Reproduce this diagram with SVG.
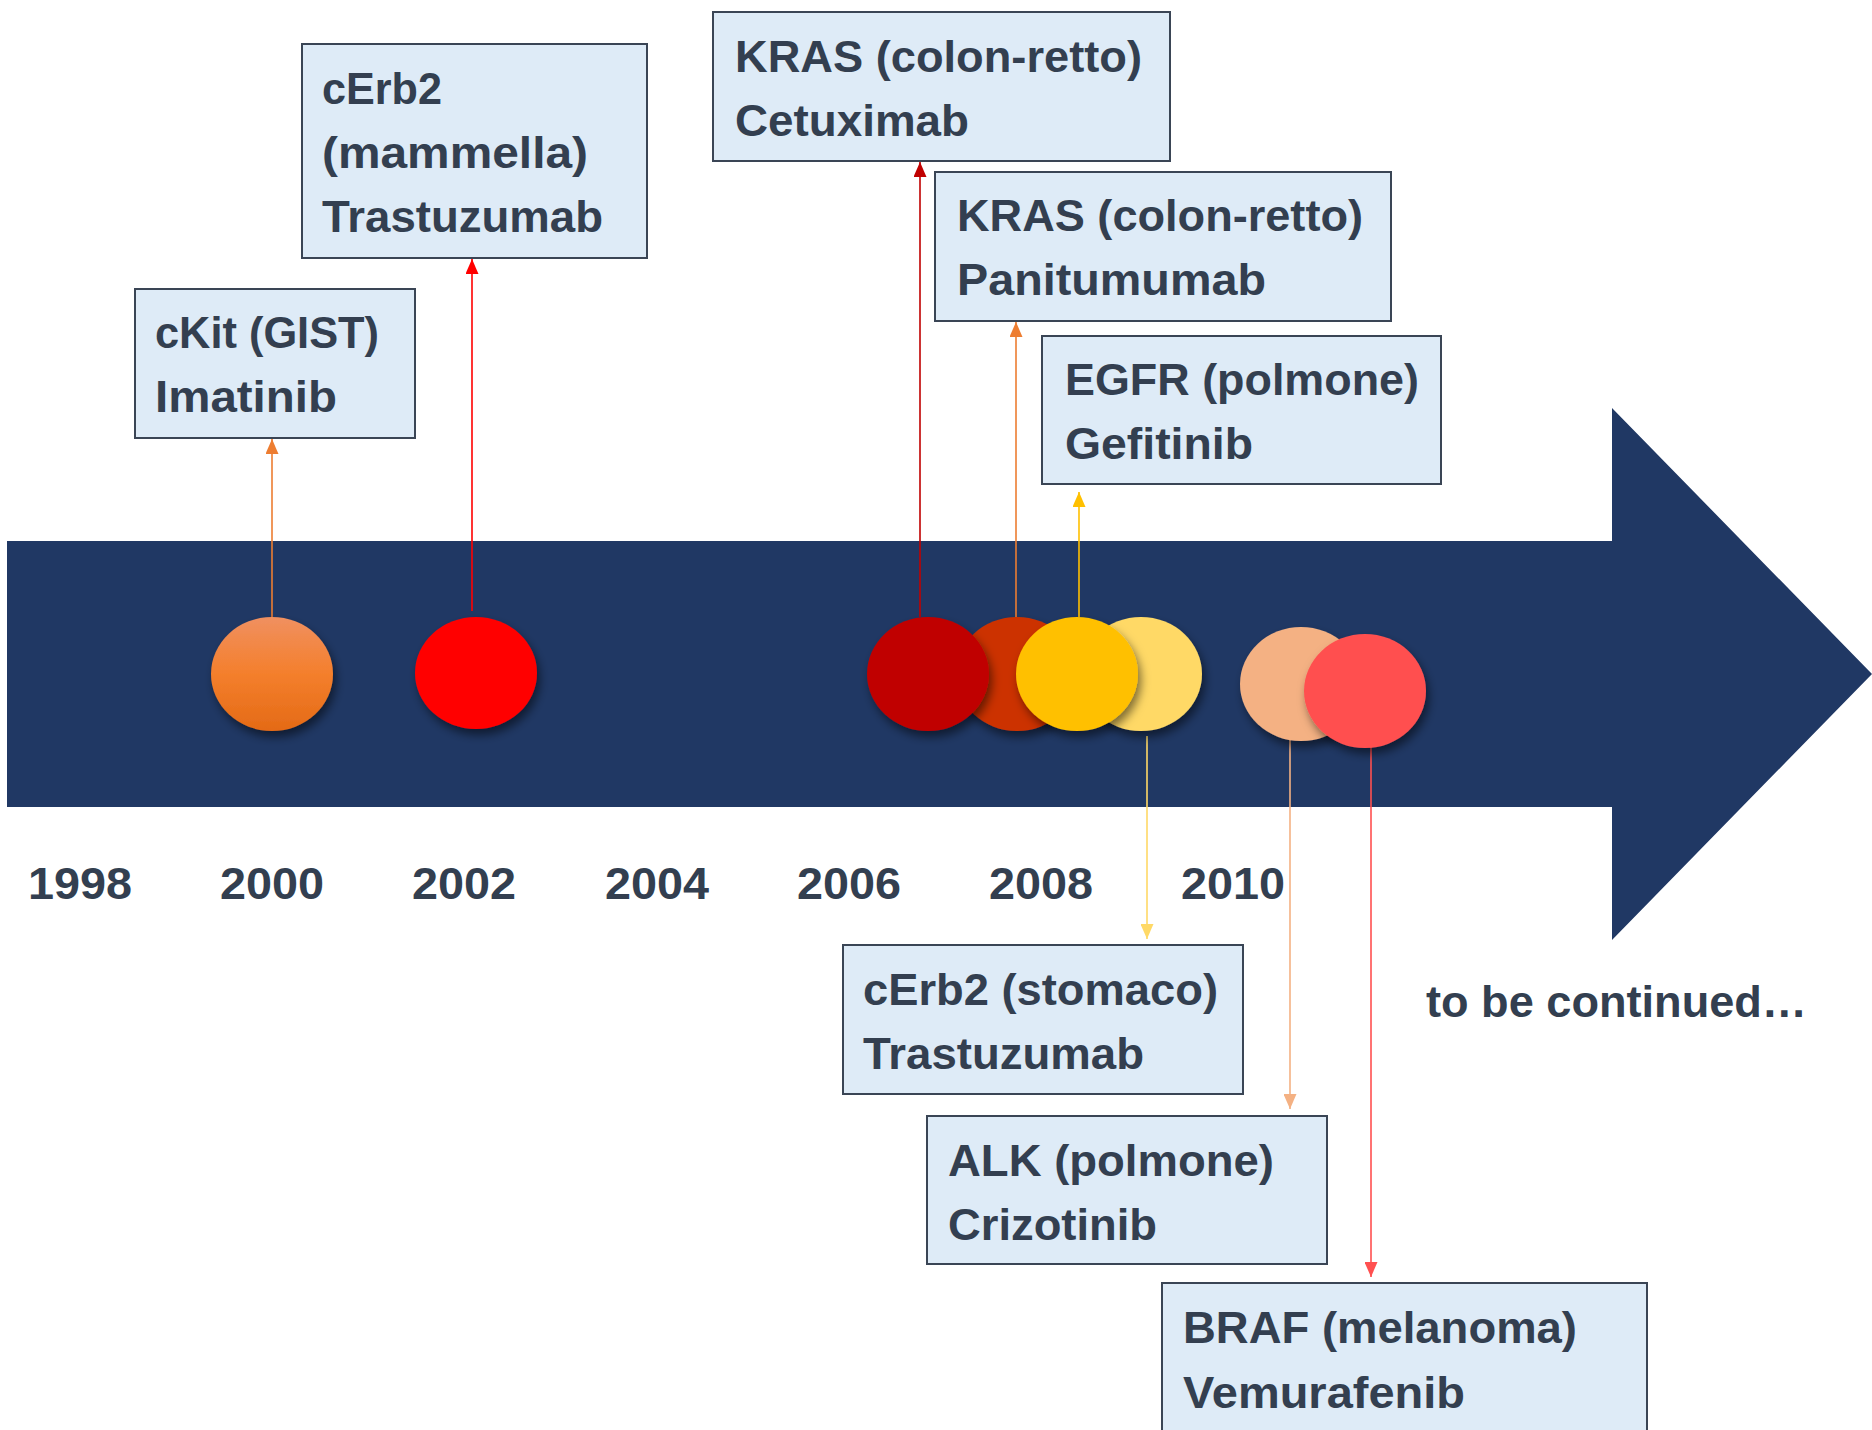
<svg xmlns="http://www.w3.org/2000/svg" width="1872" height="1430" viewBox="0 0 1872 1430">
<style>
.box{fill:#DEEBF7;stroke:#3A4555;stroke-width:2}
.t{font-family:"Liberation Sans",Arial,sans-serif;font-weight:bold;font-size:45px;fill:#333F50}
.yr{text-anchor:middle}
.c{fill:none;stroke-width:1.6}
</style>
<defs>
<linearGradient id="gOr" x1="0" y1="0" x2="0" y2="1">
<stop offset="0" stop-color="#F09060"/>
<stop offset="0.5" stop-color="#F47F2C"/>
<stop offset="1" stop-color="#E46A16"/>
</linearGradient>
<filter id="sh" x="-30%" y="-30%" width="160%" height="170%">
<feDropShadow dx="3" dy="6" stdDeviation="5" flood-color="#000" flood-opacity="0.5"/>
</filter>
<marker id="mOr" viewBox="0 0 15 13" refX="15" refY="6.5" markerWidth="15" markerHeight="13" markerUnits="userSpaceOnUse" orient="auto"><path d="M0,0 L15,6.5 L0,13 z" fill="#ED7D31"/></marker>
<marker id="mRed" viewBox="0 0 15 13" refX="15" refY="6.5" markerWidth="15" markerHeight="13" markerUnits="userSpaceOnUse" orient="auto"><path d="M0,0 L15,6.5 L0,13 z" fill="#FF0000"/></marker>
<marker id="mDr" viewBox="0 0 15 13" refX="15" refY="6.5" markerWidth="15" markerHeight="13" markerUnits="userSpaceOnUse" orient="auto"><path d="M0,0 L15,6.5 L0,13 z" fill="#C00000"/></marker>
<marker id="mYe" viewBox="0 0 15 13" refX="15" refY="6.5" markerWidth="15" markerHeight="13" markerUnits="userSpaceOnUse" orient="auto"><path d="M0,0 L15,6.5 L0,13 z" fill="#FFC000"/></marker>
<marker id="mLy" viewBox="0 0 15 13" refX="15" refY="6.5" markerWidth="15" markerHeight="13" markerUnits="userSpaceOnUse" orient="auto"><path d="M0,0 L15,6.5 L0,13 z" fill="#FFD966"/></marker>
<marker id="mPe" viewBox="0 0 15 13" refX="15" refY="6.5" markerWidth="15" markerHeight="13" markerUnits="userSpaceOnUse" orient="auto"><path d="M0,0 L15,6.5 L0,13 z" fill="#F4B183"/></marker>
<marker id="mCo" viewBox="0 0 15 13" refX="15" refY="6.5" markerWidth="15" markerHeight="13" markerUnits="userSpaceOnUse" orient="auto"><path d="M0,0 L15,6.5 L0,13 z" fill="#FF5050"/></marker>
</defs>

<g id="timeline-arrow">
<polygon points="7,541 1612,541 1612,408 1872,674 1612,940 1612,807 7,807" fill="#203864"/>
</g>

<g id="connectors">
<line class="c" x1="272" y1="617" x2="272" y2="439" stroke="#ED7D31" marker-end="url(#mOr)"/>
<line class="c" x1="472" y1="611" x2="472" y2="259" stroke="#FF0000" marker-end="url(#mRed)"/>
<line class="c" x1="920" y1="617" x2="920" y2="162" stroke="#C00000" marker-end="url(#mDr)"/>
<line class="c" x1="1016" y1="617" x2="1016" y2="322" stroke="#ED7D31" marker-end="url(#mOr)"/>
<line class="c" x1="1079" y1="617" x2="1079" y2="492" stroke="#FFC000" marker-end="url(#mYe)"/>
<line class="c" x1="1147" y1="736" x2="1147" y2="939" stroke="#FFD966" marker-end="url(#mLy)"/>
<line class="c" x1="1290" y1="740" x2="1290" y2="1109" stroke="#F4B183" marker-end="url(#mPe)"/>
<line class="c" x1="1371" y1="747" x2="1371" y2="1277" stroke="#FF5050" marker-end="url(#mCo)"/>
</g>

<g id="dot-2000"><ellipse cx="272" cy="674" rx="61" ry="57" fill="url(#gOr)" filter="url(#sh)"/></g>
<g id="dot-2002"><ellipse cx="476" cy="673" rx="61" ry="56" fill="#FF0000" filter="url(#sh)"/></g>
<g id="dot-2007b"><ellipse cx="1017" cy="674" rx="61" ry="57" fill="#CC3300" filter="url(#sh)"/></g>
<g id="dot-2007a"><ellipse cx="928" cy="674" rx="61" ry="57" fill="#C00000" filter="url(#sh)"/></g>
<g id="dot-2009"><ellipse cx="1141" cy="674" rx="61" ry="57" fill="#FFD966" filter="url(#sh)"/></g>
<g id="dot-2008"><ellipse cx="1077" cy="674" rx="61" ry="57" fill="#FFC000" filter="url(#sh)"/></g>
<g id="dot-2011a"><ellipse cx="1301" cy="684" rx="61" ry="57" fill="#F4B183" filter="url(#sh)"/></g>
<g id="dot-2011b"><ellipse cx="1365" cy="691" rx="61" ry="57" fill="#FF5050" filter="url(#sh)"/></g>

<g id="box-ckit">
<rect class="box" x="135" y="289" width="280" height="149"/>
<text class="t" x="155" y="348" textLength="224" lengthAdjust="spacingAndGlyphs">cKit (GIST)</text>
<text class="t" x="155" y="412" textLength="182" lengthAdjust="spacingAndGlyphs">Imatinib</text>
</g>
<g id="box-cerb2-mammella">
<rect class="box" x="302" y="44" width="345" height="214"/>
<text class="t" x="322" y="104" textLength="120" lengthAdjust="spacingAndGlyphs">cErb2</text>
<text class="t" x="322" y="168" textLength="266" lengthAdjust="spacingAndGlyphs">(mammella)</text>
<text class="t" x="322" y="232" textLength="281" lengthAdjust="spacingAndGlyphs">Trastuzumab</text>
</g>
<g id="box-kras-cetuximab">
<rect class="box" x="713" y="12" width="457" height="149"/>
<text class="t" x="735" y="72" textLength="407" lengthAdjust="spacingAndGlyphs">KRAS (colon-retto)</text>
<text class="t" x="735" y="136" textLength="234" lengthAdjust="spacingAndGlyphs">Cetuximab</text>
</g>
<g id="box-kras-panitumumab">
<rect class="box" x="935" y="172" width="456" height="149"/>
<text class="t" x="957" y="231" textLength="406" lengthAdjust="spacingAndGlyphs">KRAS (colon-retto)</text>
<text class="t" x="957" y="295" textLength="309" lengthAdjust="spacingAndGlyphs">Panitumumab</text>
</g>
<g id="box-egfr">
<rect class="box" x="1042" y="336" width="399" height="148"/>
<text class="t" x="1065" y="395" textLength="354" lengthAdjust="spacingAndGlyphs">EGFR (polmone)</text>
<text class="t" x="1065" y="459" textLength="188" lengthAdjust="spacingAndGlyphs">Gefitinib</text>
</g>
<g id="box-cerb2-stomaco">
<rect class="box" x="843" y="945" width="400" height="149"/>
<text class="t" x="863" y="1005" textLength="355" lengthAdjust="spacingAndGlyphs">cErb2 (stomaco)</text>
<text class="t" x="863" y="1069" textLength="281" lengthAdjust="spacingAndGlyphs">Trastuzumab</text>
</g>
<g id="box-alk">
<rect class="box" x="927" y="1116" width="400" height="148"/>
<text class="t" x="948" y="1176" textLength="326" lengthAdjust="spacingAndGlyphs">ALK (polmone)</text>
<text class="t" x="948" y="1240" textLength="209" lengthAdjust="spacingAndGlyphs">Crizotinib</text>
</g>
<g id="box-braf">
<rect class="box" x="1162" y="1283" width="485" height="160"/>
<text class="t" x="1183" y="1343" textLength="394" lengthAdjust="spacingAndGlyphs">BRAF (melanoma)</text>
<text class="t" x="1183" y="1408" textLength="282" lengthAdjust="spacingAndGlyphs">Vemurafenib</text>
</g>

<g id="years">
<text class="t yr" x="80" y="899" textLength="104" lengthAdjust="spacingAndGlyphs">1998</text>
<text class="t yr" x="272" y="899" textLength="104" lengthAdjust="spacingAndGlyphs">2000</text>
<text class="t yr" x="464" y="899" textLength="104" lengthAdjust="spacingAndGlyphs">2002</text>
<text class="t yr" x="657" y="899" textLength="104" lengthAdjust="spacingAndGlyphs">2004</text>
<text class="t yr" x="849" y="899" textLength="104" lengthAdjust="spacingAndGlyphs">2006</text>
<text class="t yr" x="1041" y="899" textLength="104" lengthAdjust="spacingAndGlyphs">2008</text>
<text class="t yr" x="1233" y="899" textLength="104" lengthAdjust="spacingAndGlyphs">2010</text>
</g>

<g id="continued">
<text class="t" x="1426" y="1017" textLength="381" lengthAdjust="spacingAndGlyphs">to be continued…</text>
</g>
</svg>
